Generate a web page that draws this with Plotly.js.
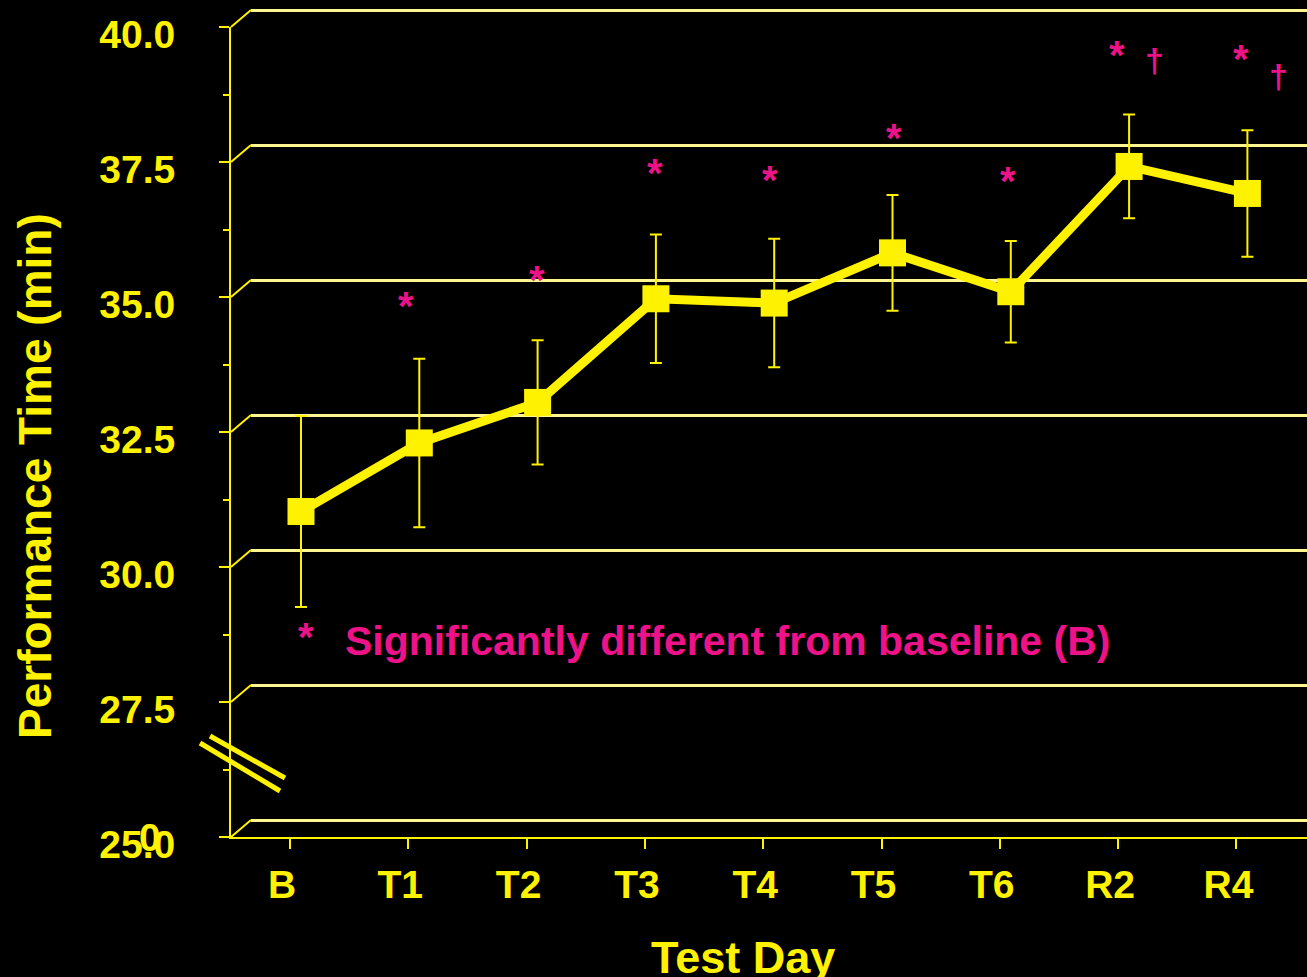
<!DOCTYPE html>
<html><head><meta charset="utf-8">
<script src="https://cdn.plot.ly/plotly-3.0.1.min.js"></script>
<style>html,body{margin:0;padding:0;background:#000;}#chart{width:1307px;height:977px;}</style>
</head><body><div id="chart"></div>
<script>
// ---- data ----
const days = ['B', 'T1', 'T2', 'T3', 'T4', 'T5', 'T6', 'R2', 'R4'];
const meanTime = [30.87, 32.14, 32.89, 34.81, 34.73, 35.66, 34.94, 37.26, 36.76];
const seTime = [1.77, 1.56, 1.15, 1.19, 1.19, 1.07, 0.94, 0.96, 1.17];
const yTicks = [25, 27.5, 30, 32.5, 35, 37.5, 40];
const starDays = ['T1', 'T2', 'T3', 'T4', 'T5', 'T6', 'R2', 'R4'];
const starY = [34.82, 35.31, 37.29, 37.16, 37.94, 37.14, 39.47, 39.40];
const daggerDays = ['R2', 'R4'];
const daggerY = [39.19, 38.90];
const yTitle = 'Performance Time (min)';
const xTitle = 'Test Day';
const noteText = 'Significantly different from baseline (B)';

// ---- style / geometry ----
const W = 1307, H = 977;
const YEL = '#FFF200', GRID = '#FFF591', MAG = '#EE1289';
const FONT = 'Liberation Sans, Arial, Helvetica, sans-serif';
const axisX = 231, axisBottom = 837, axisTop = 27;
const depthX = 20, depthY = 17;
const dataDX = 11, dataDY = 8.5;
const catPx = 118.3, firstCatPx = 290;
const yMin = yTicks[0], yMax = yTicks[yTicks.length - 1];
const pxPerUnit = (axisBottom - axisTop) / (yMax - yMin);
const fx = p => p / W, fy = p => 1 - p / H;
const yPix = v => axisBottom - (v - yMin) * pxPerUnit;
const xr0 = (axisX - firstCatPx) / catPx, xr1 = (W - firstCatPx) / catPx;
const gpad = 0.1;
const starNudge = [-13, -1, -1, -4, 1, -3, -12, -6];
const daggerNudge = [25, 31];

const bold = (size, color) => ({family: FONT, size: size, color: color, weight: 'bold'});

const traces = [
  {type: 'scatter', x: [], y: [], xaxis: 'x', yaxis: 'y', hoverinfo: 'skip', showlegend: false},
  {type: 'scatter', x: [], y: [], xaxis: 'x2', yaxis: 'y2', hoverinfo: 'skip', showlegend: false},
  {
    type: 'scatter', mode: 'lines+markers', x: days, y: meanTime, xaxis: 'x3', yaxis: 'y3',
    line: {color: YEL, width: 9},
    marker: {symbol: 'square', size: 27, color: YEL},
    error_y: {type: 'data', array: seTime, visible: true, color: YEL, thickness: 2, width: 6},
    cliponaxis: false, hoverinfo: 'skip', showlegend: false
  }
];

// 3-D depth connectors from each front tick to its back grid line
const shapes = yTicks.map(v => ({
  type: 'line', xref: 'paper', yref: 'paper',
  x0: fx(axisX), y0: fy(yPix(v)), x1: fx(axisX + depthX), y1: fy(yPix(v) - depthY),
  line: {color: YEL, width: 2}
}));
// axis break marks
shapes.push({type: 'line', xref: 'paper', yref: 'paper', x0: fx(210), y0: fy(736), x1: fx(285), y1: fy(778), line: {color: YEL, width: 5}});
shapes.push({type: 'line', xref: 'paper', yref: 'paper', x0: fx(200), y0: fy(743), x1: fx(280), y1: fy(791), line: {color: YEL, width: 5}});

const ann = (o) => Object.assign({showarrow: false, xanchor: 'center', yanchor: 'middle'}, o);
const annotations = [
  ann({text: yTitle, xref: 'paper', yref: 'paper', x: fx(35), y: fy(476), textangle: -90, font: bold(46, YEL)}),
  ann({text: xTitle, xref: 'paper', yref: 'paper', x: fx(743), y: fy(957), font: bold(45, YEL)}),
  ann({text: '0', xref: 'paper', yref: 'paper', x: fx(150), y: fy(837), font: bold(39, YEL)}),
  ann({text: '*', xref: 'paper', yref: 'paper', x: fx(306), y: fy(628.5), yshift: -8, font: bold(40, MAG)}),
  ann({text: noteText, xref: 'paper', yref: 'paper', x: fx(343), y: fy(641), xanchor: 'left', font: bold(41, MAG)})
];
starDays.forEach((d, i) => annotations.push(ann({
  text: '*', xref: 'x3', yref: 'y3', x: d, y: starY[i], xshift: starNudge[i], yshift: -8, font: bold(40, MAG)
})));
daggerDays.forEach((d, i) => annotations.push(ann({
  text: '†', xref: 'x3', yref: 'y3', x: d, y: daggerY[i], xshift: daggerNudge[i], yshift: 2, font: bold(34, MAG)
})));

const layout = {
  width: W, height: H, margin: {l: 0, r: 0, t: 0, b: 0},
  paper_bgcolor: '#000', plot_bgcolor: 'rgba(0,0,0,0)', showlegend: false,
  xaxis: {domain: [fx(axisX + depthX), 1], range: [0, 1], anchor: 'y', showgrid: false, zeroline: false,
          showticklabels: false, ticks: '', showline: false, fixedrange: true},
  yaxis: {domain: [fy(axisBottom - depthY + gpad * pxPerUnit), fy(axisTop - depthY - gpad * pxPerUnit)],
          range: [yMin - gpad, yMax + gpad], anchor: 'x', tickmode: 'array', tickvals: yTicks,
          showgrid: true, gridcolor: GRID, gridwidth: 3, showticklabels: false, ticks: '',
          zeroline: false, showline: false, fixedrange: true},
  xaxis2: {domain: [fx(axisX), 1], range: [xr0, xr1], anchor: 'y2', tickmode: 'array',
           tickvals: days.map((_, i) => i), ticktext: days, ticks: 'outside', ticklen: 10, tickwidth: 2,
           tickcolor: YEL, showline: true, linecolor: YEL, linewidth: 2, showgrid: false, zeroline: false,
           tickfont: bold(39, YEL), ticklabelshift: -8, ticklabelstandoff: 2, ticklabeloverflow: 'allow', fixedrange: true},
  yaxis2: {domain: [fy(axisBottom), fy(axisTop)], range: [yMin, yMax], anchor: 'x2',
           tick0: yMin, dtick: yTicks[1] - yTicks[0], tickformat: '.1f',
           ticks: 'outside', ticklen: 10, tickwidth: 2, tickcolor: YEL,
           minor: {dtick: (yTicks[1] - yTicks[0]) / 2, ticks: 'outside', ticklen: 6, tickwidth: 2, tickcolor: YEL, showgrid: false},
           showline: true, linecolor: YEL, linewidth: 2, showgrid: false, zeroline: false,
           tickfont: bold(39, YEL), ticklabelshift: 7, ticklabelstandoff: 36, ticklabeloverflow: 'allow', fixedrange: true},
  xaxis3: {domain: [fx(axisX), 1], range: [xr0 - dataDX / catPx, xr1 - dataDX / catPx], anchor: 'y3', visible: false, fixedrange: true},
  yaxis3: {domain: [fy(axisBottom), fy(axisTop)], range: [yMin - dataDY / pxPerUnit, yMax - dataDY / pxPerUnit], anchor: 'x3', visible: false, fixedrange: true},
  shapes: shapes,
  annotations: annotations
};

Plotly.newPlot('chart', traces, layout, {displayModeBar: false, staticPlot: true});
</script></body></html>
